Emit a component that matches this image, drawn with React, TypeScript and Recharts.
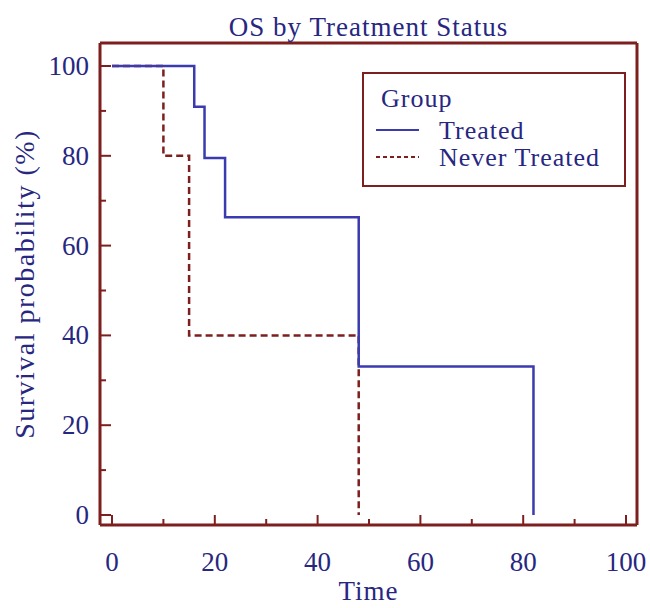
import React from "react";
import { LineChart, Line, XAxis, YAxis, Legend } from "recharts";

const treatedTime = [0, 16, 18, 22, 48, 82];
const treatedSurv = [100, 90.9, 79.5, 66.3, 33.1, 0];
const neverTime = [0, 10, 15, 48];
const neverSurv = [100, 80, 40, 0];
const xTicks = [0, 10, 20, 30, 40, 50, 60, 70, 80, 90, 100];
const yTicks = [0, 10, 20, 30, 40, 50, 60, 70, 80, 90, 100];

const treatedData = treatedTime.map((t, i) => ({ t, s: treatedSurv[i] }));
const neverData = neverTime.map((t, i) => ({ t, s: neverSurv[i] }));

const FRAME = "#7E1F1F";
const TEXT = "#272781";
const BLUE = "#3B3BB0";
const FONT = "'Liberation Serif', 'DejaVu Serif', serif";

const XTick = (props: any) => {
  const { x, y, payload } = props;
  const major = payload.value % 20 === 0;
  return (
    <g>
      <line x1={x} x2={x} y1={y} y2={y - (major ? 10 : 6)} stroke={FRAME} strokeWidth={2} />
      {major && (
        <text x={x} y={y + 46} textAnchor="middle" fill={TEXT} fontSize={27} fontFamily={FONT}>
          {payload.value}
        </text>
      )}
    </g>
  );
};

const YTick = (props: any) => {
  const { x, y, payload } = props;
  const major = payload.value % 20 === 0;
  return (
    <g>
      <line x1={x} x2={x + (major ? 11 : 6)} y1={y} y2={y} stroke={FRAME} strokeWidth={2} />
      {major && (
        <text x={x - 11} y={y + 9} textAnchor="end" fill={TEXT} fontSize={27} fontFamily={FONT}>
          {payload.value}
        </text>
      )}
    </g>
  );
};

const LegendBox = () => (
  <svg width={265} height={116} style={{ display: "block" }}>
    <rect x={1} y={1} width={262} height={113} fill="#fff" stroke={FRAME} strokeWidth={2} />
    <text x={19} y={35} fill={TEXT} fontSize={26} letterSpacing={1} fontFamily={FONT}>Group</text>
    <line x1={14} x2={57} y1={58} y2={58} stroke={BLUE} strokeWidth={2} />
    <text x={77} y={67} fill={TEXT} fontSize={26} letterSpacing={1} fontFamily={FONT}>Treated</text>
    <line x1={14} x2={57} y1={85} y2={85} stroke={FRAME} strokeWidth={2} strokeDasharray="4 3" />
    <text x={77} y={94} fill={TEXT} fontSize={26} letterSpacing={1} fontFamily={FONT}>Never Treated</text>
  </svg>
);

export default function App() {
  return (
    <div style={{ position: "absolute", left: 0, top: 0, background: "#fff" }}>
      <LineChart width={650} height={608} margin={{ top: 42, right: 12, bottom: 43, left: 40 }}>
        <XAxis
          xAxisId="b"
          type="number"
          dataKey="t"
          domain={[0, 100]}
          ticks={xTicks}
          padding={{ left: 12, right: 11 }}
          height={40}
          tickSize={0}
          tickMargin={0}
          tickLine={false}
          tick={<XTick />}
          axisLine={{ stroke: FRAME, strokeWidth: 3 }}
          label={{ value: "Time", position: "bottom", offset: 16, fill: TEXT, fontSize: 27, letterSpacing: 1, fontFamily: FONT }}
        />
        <XAxis
          xAxisId="top"
          orientation="top"
          type="number"
          dataKey="t"
          domain={[0, 100]}
          height={1}
          tick={false}
          tickLine={false}
          axisLine={{ stroke: FRAME, strokeWidth: 3 }}
          label={{ value: "OS by Treatment Status", position: "top", offset: 6, fill: TEXT, fontSize: 27, letterSpacing: 1, fontFamily: FONT }}
        />
        <YAxis
          yAxisId="l"
          type="number"
          domain={[0, 100]}
          ticks={yTicks}
          padding={{ top: 23, bottom: 10 }}
          width={60}
          tickSize={0}
          tickMargin={0}
          tickLine={false}
          tick={<YTick />}
          axisLine={{ stroke: FRAME, strokeWidth: 3 }}
          label={{ value: "Survival probability (%)", angle: -90, position: "insideLeft", offset: -16, fill: TEXT, fontSize: 28, letterSpacing: 1.5, fontFamily: FONT, style: { textAnchor: "middle" } }}
        />
        <YAxis
          yAxisId="r"
          orientation="right"
          type="number"
          domain={[0, 100]}
          width={1}
          tick={false}
          tickLine={false}
          axisLine={{ stroke: FRAME, strokeWidth: 3 }}
        />
        <Legend
          layout="vertical"
          align="center"
          verticalAlign="middle"
          content={<LegendBox />}
          wrapperStyle={{ position: "absolute", left: 362, top: 72, width: 265, height: 116 }}
        />
        <Line
          xAxisId="top"
          yAxisId="r"
          data={treatedData}
          dataKey="s"
          stroke="none"
          dot={false}
          activeDot={false}
          legendType="none"
          isAnimationActive={false}
        />
        <Line
          xAxisId="b"
          yAxisId="l"
          data={neverData}
          dataKey="s"
          type="stepAfter"
          stroke={FRAME}
          strokeWidth={2.5}
          strokeDasharray="7 4"
          dot={false}
          activeDot={false}
          isAnimationActive={false}
        />
        <Line
          xAxisId="b"
          yAxisId="l"
          data={treatedData}
          dataKey="s"
          type="stepAfter"
          stroke={BLUE}
          strokeWidth={2.5}
          dot={false}
          activeDot={false}
          isAnimationActive={false}
        />
      </LineChart>
    </div>
  );
}
